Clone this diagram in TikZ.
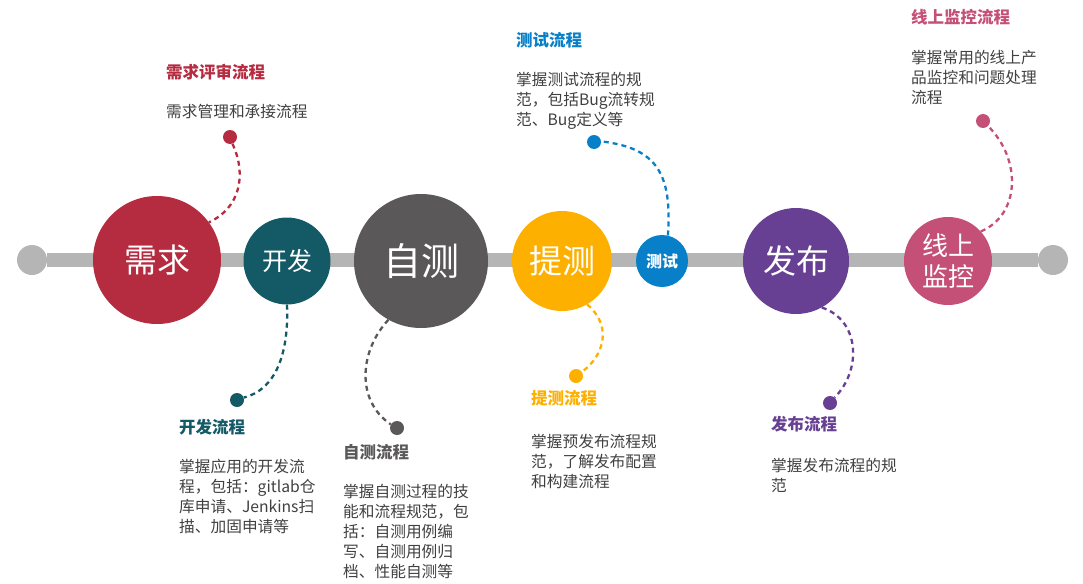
\documentclass[tikz,border=0pt]{standalone}
\usepackage{fontspec}
\setmainfont{Noto Sans CJK SC}
\usetikzlibrary{backgrounds}
\definecolor{cRed}{HTML}{B52B40}
\definecolor{cTeal}{HTML}{145A66}
\definecolor{cGray}{HTML}{5A5859}
\definecolor{cOrange}{HTML}{FDB000}
\definecolor{cBlue}{HTML}{0880C9}
\definecolor{cPurple}{HTML}{673F93}
\definecolor{cPink}{HTML}{C55077}
\definecolor{barGray}{HTML}{B4B5B4}
\definecolor{bodyGray}{HTML}{404040}
\begin{document}
\begin{tikzpicture}[x=1pt,y=-1pt,
  stage/.style={circle, inner sep=0pt, text=white, align=center},
  endcap/.style={circle, fill=barGray, inner sep=0pt, minimum size=30pt},
  dot/.style={circle, fill=#1, inner sep=0pt, minimum size=14pt},
  link/.style={draw=#1, dash pattern=on 5pt off 4pt, line width=2.3pt},
  ttl/.style={anchor=west, inner sep=0pt, text=#1, font=\fontsize{16.5}{20}\selectfont\bfseries},
  bodytext/.style={anchor=north west, inner sep=0pt, align=left, text=bodyGray, font=\fontsize{15.7}{20}\selectfont}]
\useasboundingbox (0,0) rectangle (1083,583);
% end caps
\node[endcap] (L) at (32,260) {};
\node[endcap] (R) at (1053,260) {};
% stages
\node[stage, fill=cRed, minimum size=128pt, font=\fontsize{33}{36}\selectfont] (c1) at (157,260) {需求};
\node[stage, fill=cTeal, minimum size=87pt, font=\fontsize{25}{30}\selectfont] (c2) at (287,261) {开发};
\node[stage, fill=cGray, minimum size=134pt, font=\fontsize{38}{42}\selectfont] (c3) at (421,261) {自测};
\node[stage, fill=cOrange, minimum size=100pt, font=\fontsize{33}{38}\selectfont] (c4) at (562,261) {提测};
\node[stage, fill=cBlue, minimum size=52pt, font=\fontsize{16}{18}\selectfont\bfseries] (c5) at (662,261) {测试};
\node[stage, fill=cPurple, minimum size=106pt, font=\fontsize{33}{38}\selectfont] (c6) at (796,261) {发布};
\node[stage, fill=cPink, minimum size=88pt, font=\fontsize{26}{31}\selectfont] (c7) at (948,261) {线上\\监控};
% bar
\begin{scope}[on background layer]
\draw[barGray, line width=14pt] (L) -- (R);
\end{scope}
% dots
\node[dot=cRed] (d1) at (230,137) {};
\node[dot=cTeal] (d2) at (237,400) {};
\node[dot=cGray] (d3) at (397,428) {};
\node[dot=cOrange] (d4) at (576,376) {};
\node[dot=cBlue] (d5) at (594,142) {};
\node[dot=cPurple] (d6) at (830,403) {};
\node[dot=cPink] (d7) at (983,121) {};
% links
\draw[link=cRed] (d1.-70) .. controls (247,175) and (240,208) .. (c1.36);
\draw[link=cTeal] (c2.-90) .. controls (289,355) and (275,390) .. (d2.20);
\draw[link=cGray] (c3.241) .. controls (360,350) and (355,400) .. (d3.150);
\draw[link=cOrange] (c4.-60) .. controls (612,325) and (605,355) .. (d4.35);
\draw[link=cBlue] (c5.77) .. controls (672,175) and (658,148) .. (d5.5);
\draw[link=cPurple] (c6.-61) .. controls (860,320) and (862,370) .. (d6.50);
\draw[link=cPink] (c7.42) .. controls (1020,215) and (1022,160) .. (d7.-45);
% titles
\node[ttl=cRed] (t1) at (166,72) {需求评审流程};
\node[ttl=cTeal] (t2) at (179,427) {开发流程};
\node[ttl=cGray] (t3) at (343,452) {自测流程};
\node[ttl=cOrange] (t4) at (531,398) {提测流程};
\node[ttl=cBlue] (t5) at (516,40) {测试流程};
\node[ttl=cPurple] (t6) at (771,424) {发布流程};
\node[ttl=cPink] (t7) at (911,17) {线上监控流程};
% bodies
\node[bodytext] (b1) at (166,104) {需求管理和承接流程};
\node[bodytext] (b2) at (179,459) {掌握应用的开发流\\程，包括：gitlab仓\\库申请、Jenkins扫\\描、加固申请等};
\node[bodytext] (b3) at (343,484) {掌握自测过程的技\\能和流程规范，包\\括：自测用例编\\写、自测用例归\\档、性能自测等};
\node[bodytext] (b4) at (531,434) {掌握预发布流程规\\范，了解发布配置\\和构建流程};
\node[bodytext] (b5) at (516,72) {掌握测试流程的规\\范，包括Bug流转规\\范、Bug定义等};
\node[bodytext] (b6) at (771,458) {掌握发布流程的规\\范};
\node[bodytext] (b7) at (911,50) {掌握常用的线上产\\品监控和问题处理\\流程};
\end{tikzpicture}
\end{document}
